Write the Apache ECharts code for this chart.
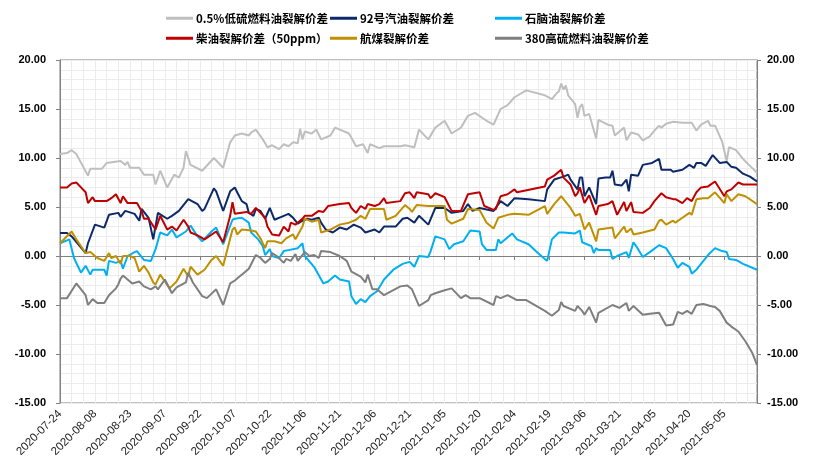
<!DOCTYPE html>
<html><head><meta charset="utf-8">
<script src="https://cdn.jsdelivr.net/npm/echarts@6/dist/echarts.min.js"></script>
<style>html,body{margin:0;padding:0;background:#fff}#c{width:819px;height:471px}</style>
</head><body><div id="c"></div>
<script>
// calendar days from start date (category axis)
const startDate = '2020-07-24';
const dayCount = 300;
function buildDates(start, n) {
  const out = [];
  const d0 = new Date(start + 'T00:00:00Z');
  for (let i = 0; i < n; i++) {
    const d = new Date(d0.getTime() + i * 86400000);
    out.push(d.toISOString().slice(0, 10));
  }
  return out;
}
const categories = buildDates(startDate, dayCount);

const seriesNames = ['0.5%低硫燃料油裂解价差', '92号汽油裂解价差', '石脑油裂解价差', '柴油裂解价差（50ppm）', '航煤裂解价差', '380高硫燃料油裂解价差'];
const seriesColors = ['#bfbfbf', '#0c2a6a', '#00b0f0', '#c00000', '#bf9000', '#7f7f7f'];

// [day offset, value]
const lsfo = [[0,10.4],[3,10.5],[5,10.8],[7,10.4],[12,8.2],[13,8.9],[18,8.9],[20,9.5],[26,9.7],[28,9.3],[29,9.6],[30,9.0],[34,9.0],[36,8.3],[40,8.3],[41,7.3],[43,8.7],[46,7.0],[49,8.3],[51,8.0],[53,9.0],[54,10.7],[56,9.3],[61,8.7],[66,10.0],[70,9.0],[73,11.6],[75,12.3],[78,12.5],[81,12.3],[82,12.6],[84,12.9],[87,11.9],[89,11.1],[91,11.3],[94,10.9],[96,11.4],[98,11.2],[100,11.6],[102,11.5],[103,13.0],[104,11.9],[105,12.7],[108,12.5],[110,12.9],[112,11.9],[116,12.3],[118,13.1],[124,12.5],[127,11.2],[130,11.4],[132,10.5],[133,11.4],[137,11.0],[139,11.2],[146,11.2],[148,11.3],[150,11.2],[152,11.1],[154,12.9],[158,11.9],[161,13.1],[165,13.8],[168,12.5],[172,13.1],[175,14.3],[178,14.6],[183,13.8],[186,13.4],[189,15.0],[192,15.4],[195,16.2],[200,16.9],[208,16.4],[211,16.0],[213,16.6],[214,16.8],[215,17.6],[216,17.0],[217,17.4],[218,16.4],[221,15.5],[222,14.1],[223,15.2],[224,15.5],[225,14.3],[227,14.5],[230,12.0],[231,13.9],[235,13.4],[237,13.3],[238,12.3],[242,13.1],[243,11.8],[245,12.6],[248,12.4],[250,11.8],[253,12.2],[255,12.8],[257,13.3],[258,13.1],[260,13.5],[263,13.7],[267,13.6],[271,13.6],[273,12.8],[275,13.4],[278,13.8],[279,13.3],[281,13.3],[284,11.7],[286,9.7],[287,11.1],[290,10.8],[293,9.9],[296,9.2],[299,8.5]];

const gasoline92 = [[0,2.35],[3,2.35],[5,2.0],[11,0.3],[12,1.3],[15,3.2],[19,2.9],[21,4.2],[25,4.4],[26,4.0],[28,4.6],[32,4.3],[34,3.6],[35,4.8],[38,3.9],[40,1.7],[42,4.4],[46,3.8],[48,4.1],[51,4.6],[55,5.8],[59,5.3],[61,4.6],[62,4.8],[66,6.9],[67,6.6],[70,4.6],[73,6.6],[75,7.0],[76,6.5],[78,5.6],[80,5.3],[81,4.4],[83,4.1],[84,4.8],[86,4.6],[88,3.8],[90,4.9],[92,3.7],[96,4.1],[98,4.3],[100,3.9],[102,3.3],[104,3.6],[106,3.8],[108,3.7],[111,3.9],[112,3.4],[114,2.7],[117,2.4],[120,2.9],[123,2.7],[126,3.2],[129,2.9],[131,2.4],[135,2.7],[137,2.4],[139,3.0],[144,3.0],[147,3.8],[149,3.9],[152,3.4],[154,4.1],[158,3.2],[161,4.9],[165,4.9],[168,4.4],[173,4.6],[175,5.3],[177,4.6],[180,4.9],[186,4.6],[189,5.6],[192,5.1],[195,5.9],[201,5.8],[208,5.6],[209,6.8],[212,7.8],[216,8.1],[218,8.3],[219,7.8],[222,6.8],[223,8.0],[224,8.0],[225,6.1],[227,7.0],[230,5.3],[231,7.9],[234,8.0],[236,8.0],[237,8.7],[238,7.3],[241,7.2],[243,7.8],[244,6.6],[245,8.3],[248,8.2],[250,9.3],[254,9.5],[257,9.9],[258,8.8],[262,8.8],[263,8.6],[267,8.8],[270,9.3],[272,9.0],[273,9.5],[275,9.5],[277,9.2],[280,10.3],[283,9.5],[286,9.6],[288,9.1],[290,9.0],[293,8.4],[296,8.1],[299,7.6]];

const naphtha = [[0,1.3],[4,1.7],[6,-0.2],[9,-1.7],[11,-1.0],[13,-1.9],[14,-1.4],[19,-1.4],[20,-2.0],[21,-0.5],[24,-0.7],[26,-0.5],[27,-1.3],[29,0],[32,0.4],[33,0.5],[36,-0.4],[39,-0.5],[41,0.7],[43,2.4],[46,2.1],[48,2.7],[50,1.9],[54,2.5],[56,3.1],[59,2.0],[61,1.5],[65,2.5],[67,2.9],[70,1.2],[74,3.7],[75,3.8],[78,3.9],[81,3.4],[82,2.4],[85,1.7],[87,1.0],[88,0.1],[90,0.7],[91,0],[94,-0.2],[96,0.5],[98,0.6],[102,0.8],[104,1.3],[105,0],[109,-1.1],[113,-2.8],[115,-2.6],[118,-2.0],[120,-2.4],[124,-2.6],[125,-4.1],[127,-4.9],[129,-4.4],[131,-4.7],[133,-4.1],[136,-3.6],[139,-2.4],[143,-1.4],[147,-0.8],[150,-0.6],[152,-1.1],[154,0],[158,-0.1],[159,0.5],[161,2.0],[165,1.7],[167,0.7],[169,1.2],[173,1.5],[176,2.6],[180,2.5],[181,1.2],[183,0.6],[187,0.6],[188,1.7],[189,1.3],[194,2.3],[196,1.7],[201,1.2],[205,0.3],[209,-0.5],[211,1.7],[214,2.4],[216,2.4],[221,2.3],[223,2.6],[224,1.4],[228,1.0],[229,0.3],[230,0.8],[231,0.6],[236,0.6],[237,-0.3],[239,0],[243,0.4],[244,-0.2],[246,1.4],[248,0.7],[250,-0.1],[253,0.4],[257,1.1],[260,0.8],[263,-0.3],[265,-1.2],[267,-0.7],[270,-1.1],[271,-1.8],[273,-1.4],[278,0.1],[281,0.8],[284,0.5],[286,0.4],[287,-0.3],[290,-0.4],[293,-0.8],[299,-1.4]];

const diesel = [[0,7.0],[3,7.0],[5,7.4],[7,7.5],[9,7.0],[11,6.5],[12,5.4],[14,6.0],[15,5.6],[20,5.6],[22,5.9],[24,6.3],[26,5.4],[27,6.1],[29,5.4],[33,5.4],[35,4.6],[36,3.8],[38,3.8],[41,2.7],[43,4.1],[46,2.7],[48,3.0],[50,2.6],[53,3.7],[55,3.0],[56,2.4],[59,2.1],[62,1.7],[67,2.5],[70,1.4],[73,4.1],[74,5.5],[75,4.3],[80,4.5],[82,4.3],[84,4.9],[86,4.4],[88,3.9],[89,3.0],[91,2.2],[94,2.1],[96,3.0],[98,2.5],[99,3.4],[101,3.2],[104,3.8],[105,4.1],[108,4.1],[111,4.6],[113,4.5],[115,5.1],[120,5.3],[124,5.4],[125,4.9],[127,4.4],[129,5.1],[131,4.8],[132,5.3],[135,5.1],[137,5.3],[139,5.9],[140,5.4],[146,5.6],[148,6.4],[150,6.5],[152,5.9],[153,6.5],[158,6.3],[159,5.9],[161,6.4],[165,6.0],[168,4.6],[172,4.6],[175,6.3],[180,6.5],[182,5.1],[186,4.7],[187,4.8],[189,6.1],[192,6.3],[195,6.8],[196,6.5],[208,7.1],[209,7.8],[212,8.2],[215,8.8],[216,8.0],[219,7.3],[221,6.1],[222,6.4],[223,7.0],[225,5.4],[227,6.2],[230,4.2],[231,5.1],[235,5.3],[237,5.6],[239,4.2],[242,5.5],[243,4.6],[245,5.5],[246,4.5],[250,4.4],[253,4.9],[255,5.6],[258,6.4],[260,6.0],[263,5.8],[264,5.8],[267,5.4],[269,5.9],[271,5.6],[273,6.5],[275,7.0],[278,7.1],[281,7.6],[285,6.1],[286,6.6],[288,6.8],[291,7.5],[293,7.3],[299,7.3]];

const jetFuel = [[0,1.3],[5,2.5],[7,1.7],[11,0.3],[13,0.4],[16,-0.2],[19,-0.5],[21,0.3],[22,-0.2],[24,0],[26,-0.8],[27,0],[30,0],[32,-0.2],[34,-1.6],[36,-1.0],[38,-1.7],[40,-2.7],[41,-2.9],[43,-1.9],[45,-2.6],[47,-3.3],[50,-2.6],[53,-1.3],[55,-2.1],[56,-1.1],[59,-1.9],[62,-1.4],[65,-0.4],[67,0],[70,-1.0],[74,2.7],[75,2.9],[76,2.2],[78,2.7],[82,2.6],[84,2.5],[86,1.8],[88,0.8],[89,1.5],[92,1.5],[95,1.3],[97,1.8],[100,2.2],[101,1.7],[104,3.0],[105,3.8],[108,3.5],[111,3.7],[112,2.4],[116,2.7],[120,3.2],[124,3.4],[127,3.7],[129,4.1],[131,3.8],[133,4.8],[137,4.8],[139,4.8],[140,3.7],[144,4.1],[148,5.2],[150,4.8],[151,4.5],[153,5.2],[158,5.1],[161,5.1],[165,5.1],[166,3.7],[168,3.3],[173,3.8],[175,4.8],[180,4.7],[183,3.4],[186,2.8],[188,3.9],[192,4.2],[195,4.3],[201,4.2],[208,5.1],[209,4.3],[212,5.3],[215,6.1],[216,5.8],[219,4.9],[221,4.1],[223,4.3],[225,2.7],[227,3.4],[230,1.5],[231,2.7],[237,2.9],[238,1.8],[242,3.0],[243,2.4],[245,2.8],[246,2.2],[250,2.4],[255,2.7],[257,3.6],[258,3.7],[260,3.2],[263,3.6],[264,3.4],[267,3.9],[270,4.4],[271,4.2],[273,5.8],[276,5.9],[278,5.9],[281,6.5],[285,5.4],[286,6.3],[288,5.6],[291,6.3],[294,6.1],[299,5.3]];

const hsfo380 = [[0,-4.3],[3,-4.3],[7,-2.8],[11,-4.0],[12,-5.0],[14,-4.4],[16,-4.8],[19,-4.8],[21,-4.0],[24,-3.3],[25,-2.9],[26,-2.3],[27,-2.0],[29,-2.4],[31,-2.8],[34,-2.6],[36,-3.1],[39,-3.4],[41,-3.1],[42,-3.4],[45,-2.4],[48,-3.8],[50,-3.2],[54,-2.7],[55,-1.7],[57,-2.7],[61,-4.1],[63,-4.3],[67,-3.4],[70,-5.0],[73,-2.8],[75,-2.5],[77,-2.1],[79,-1.7],[81,-1.3],[84,0.1],[86,-0.2],[88,-0.7],[90,-0.3],[91,0.3],[93,0],[96,-0.7],[97,-0.3],[99,-0.5],[101,0.2],[102,-0.5],[105,0.4],[107,0],[109,0.1],[111,-0.2],[112,0.5],[116,0.4],[120,0],[123,-0.5],[125,-1.6],[129,-2.1],[131,-2.7],[132,-1.9],[134,-3.4],[136,-3.4],[137,-3.6],[139,-4.0],[142,-3.6],[146,-3.1],[149,-3.0],[151,-3.4],[154,-5.1],[158,-4.5],[159,-4.0],[161,-3.8],[165,-3.5],[168,-3.3],[172,-4.3],[174,-4.0],[176,-4.3],[180,-4.3],[186,-5.0],[187,-4.1],[189,-4.3],[192,-4.0],[196,-4.5],[200,-4.5],[208,-5.6],[211,-6.1],[214,-5.5],[215,-4.7],[216,-5.1],[221,-5.6],[222,-5.1],[224,-5.6],[225,-6.0],[227,-5.2],[230,-6.8],[231,-5.8],[237,-5.0],[240,-5.3],[243,-4.8],[244,-5.6],[246,-5.1],[250,-6.0],[253,-5.9],[257,-5.8],[260,-7.1],[263,-7.0],[265,-5.7],[267,-5.9],[269,-5.6],[271,-5.9],[273,-5.0],[276,-4.9],[279,-5.1],[281,-5.2],[283,-5.6],[286,-6.8],[288,-7.2],[291,-7.7],[294,-8.7],[297,-9.9],[299,-11.1]];

const seriesData = [lsfo, gasoline92, naphtha, diesel, jetFuel, hsfo380];

const yMin = -15, yMax = 20, yStep = 5;
const labelEvery = 15, gridEvery = 5;

const FONT = "'Liberation Sans', 'Noto Sans CJK SC', sans-serif";
const chart = echarts.init(document.getElementById('c'), null, {renderer: 'canvas'});

const legendText = {fontSize: 11.5, fontWeight: 'bold', color: '#000', fontFamily: "'Noto Sans CJK SC', sans-serif", padding: [0, 0, 0, -2]};
function mkLegend(left, names) {
  return {left: left, top: 12.5, padding: 0, orient: 'vertical', itemGap: 8.5, itemWidth: 27, itemHeight: 3,
    icon: 'rect', data: names, textStyle: legendText, selectedMode: false};
}

const yAxisBase = {
  type: 'value', min: yMin, max: yMax, interval: yStep,
  axisLine: {show: true, lineStyle: {color: '#808080', width: 1}},
  axisTick: {show: true, length: 4, inside: false, lineStyle: {color: '#808080'}},
  axisLabel: {formatter: v => v.toFixed(2), fontSize: 11, fontWeight: 'bold', color: '#000', fontFamily: FONT}
};

chart.setOption({
  animation: false,
  backgroundColor: '#fff',
  textStyle: {fontFamily: FONT},
  grid: {left: 60, right: 62, top: 60, bottom: 68, show: true, borderColor: '#808080', borderWidth: 1, containLabel: false},
  legend: [
    mkLegend(166, [seriesNames[0], seriesNames[3]]),
    mkLegend(330, [seriesNames[1], seriesNames[4]]),
    mkLegend(495, [seriesNames[2], seriesNames[5]])
  ],
  xAxis: [
    {
      type: 'category', data: categories, boundaryGap: false, position: 'bottom',
      axisLine: {show: false, onZero: false},
      axisTick: {show: false},
      axisLabel: {interval: labelEvery - 1, rotate: 45, fontSize: 11.5, color: '#222', margin: 9, fontFamily: FONT},
      splitLine: {show: true, interval: (i) => i % gridEvery === 0, lineStyle: {color: '#ececec', width: 1}}
    },
    {
      type: 'category', data: categories, boundaryGap: false, position: 'bottom',
      axisLine: {show: true, onZero: true, lineStyle: {color: '#808080', width: 1}},
      axisTick: {show: true, interval: labelEvery - 1, length: 4, lineStyle: {color: '#808080'}},
      axisLabel: {show: false},
      splitLine: {show: false}
    }
  ],
  yAxis: [
    Object.assign({}, yAxisBase, {
      position: 'left',
      axisLabel: Object.assign({}, yAxisBase.axisLabel, {margin: 14}),
      splitLine: {show: true, lineStyle: {color: '#ececec', width: 1}},
      minorTick: {show: false, splitNumber: 5},
      minorSplitLine: {show: true, lineStyle: {color: '#ececec', width: 1}}
    }),
    Object.assign({}, yAxisBase, {
      position: 'right',
      axisLabel: Object.assign({}, yAxisBase.axisLabel, {margin: 10}),
      splitLine: {show: false}
    })
  ],
  series: seriesNames.map((name, i) => ({
    name: name, type: 'line', xAxisIndex: 0, yAxisIndex: 0,
    data: seriesData[i], symbol: 'none', showSymbol: false,
    lineStyle: {color: seriesColors[i], width: 2},
    itemStyle: {color: seriesColors[i]},
    z: 3
  }))
});
</script>
</body></html>
